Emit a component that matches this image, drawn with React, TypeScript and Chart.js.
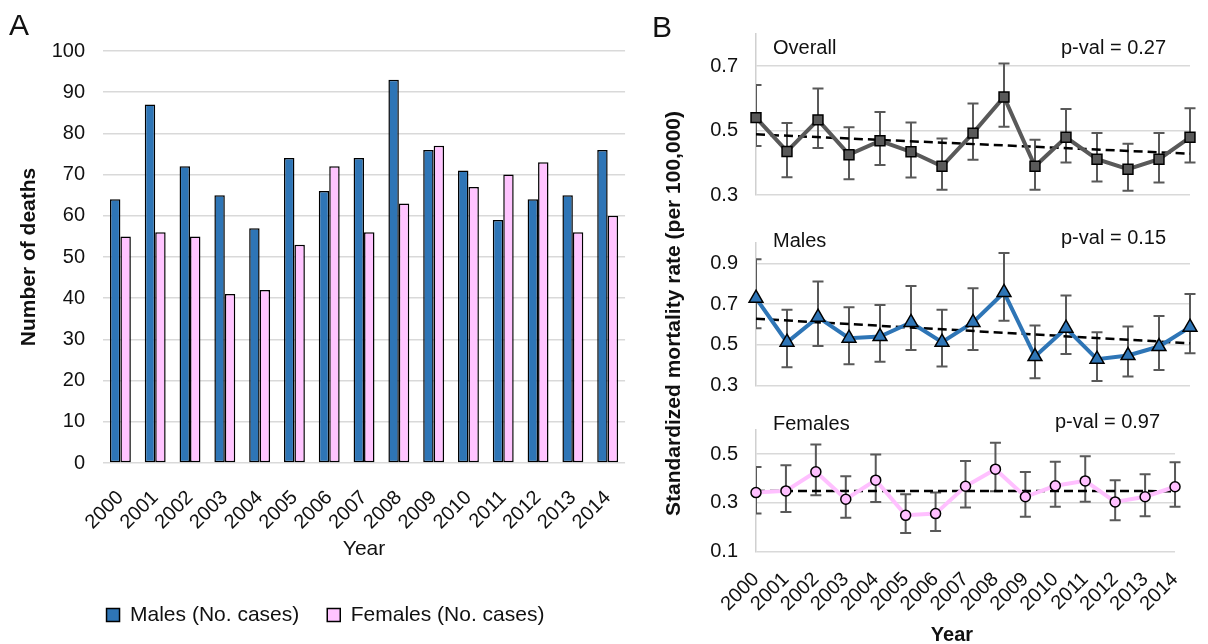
import React, { useEffect, useRef } from "react";
import { Chart, registerables } from "chart.js";

Chart.register(...registerables);

const FONT = "'Liberation Sans', Arial, Helvetica, sans-serif";
Chart.defaults.font.family = FONT;
Chart.defaults.color = "#111";

// ---------- data ----------
const years = ["2000", "2001", "2002", "2003", "2004", "2005", "2006", "2007", "2008", "2009", "2010", "2011", "2012", "2013", "2014"];

const malesCases = [64, 87, 72, 65, 57, 74, 66, 74, 93, 76, 71, 59, 64, 65, 76];
const femalesCases = [55, 56, 55, 41, 42, 53, 72, 56, 63, 77, 67, 70, 73, 56, 60];

const overallRate = [0.54, 0.435, 0.533, 0.425, 0.468, 0.434, 0.389, 0.492, 0.604, 0.389, 0.479, 0.411, 0.38, 0.411, 0.479];
const overallUpper = [0.641, 0.523, 0.63, 0.51, 0.557, 0.525, 0.475, 0.584, 0.708, 0.471, 0.567, 0.492, 0.459, 0.492, 0.569];
const overallLower = [0.452, 0.355, 0.446, 0.349, 0.393, 0.354, 0.316, 0.409, 0.512, 0.316, 0.401, 0.342, 0.313, 0.339, 0.401];
const overallTrend = [0.488, 0.428];
const overallTicks = [0.3, 0.5, 0.7];

const malesRate = [0.729, 0.513, 0.636, 0.533, 0.541, 0.61, 0.513, 0.61, 0.757, 0.443, 0.582, 0.43, 0.448, 0.492, 0.587];
const malesUpper = [0.92, 0.672, 0.811, 0.685, 0.696, 0.789, 0.672, 0.778, 0.95, 0.595, 0.742, 0.562, 0.59, 0.642, 0.749];
const malesLower = [0.582, 0.39, 0.495, 0.405, 0.418, 0.475, 0.394, 0.475, 0.618, 0.336, 0.456, 0.323, 0.345, 0.377, 0.459];
const malesTrend = [0.628, 0.508];
const malesTicks = [0.3, 0.5, 0.7, 0.9];

const femalesRate = [0.342, 0.349, 0.427, 0.315, 0.393, 0.249, 0.256, 0.368, 0.438, 0.325, 0.37, 0.39, 0.304, 0.325, 0.366];
const femalesUpper = [0.447, 0.454, 0.539, 0.409, 0.498, 0.335, 0.342, 0.471, 0.546, 0.426, 0.468, 0.491, 0.393, 0.417, 0.466];
const femalesLower = [0.256, 0.263, 0.331, 0.239, 0.304, 0.177, 0.185, 0.281, 0.348, 0.243, 0.284, 0.305, 0.229, 0.245, 0.284];
const femalesTrend = [0.349, 0.348];
const femalesTicks = [0.1, 0.3, 0.5];

// ---------- helpers ----------
type TextItem = { text: string; x: number; y: number; font: string; align?: CanvasTextAlign; baseline?: CanvasTextBaseline; rotate?: number; color?: string };

function makeTextPlugin(id: string, items: TextItem[]) {
  return {
    id,
    afterDraw(chart: any) {
      const ctx = chart.ctx as CanvasRenderingContext2D;
      items.forEach((it) => {
        ctx.save();
        ctx.font = it.font;
        ctx.fillStyle = it.color || "#111";
        ctx.textAlign = it.align || "left";
        ctx.textBaseline = it.baseline || "alphabetic";
        ctx.translate(it.x, it.y);
        if (it.rotate) ctx.rotate(it.rotate);
        ctx.fillText(it.text, 0, 0);
        ctx.restore();
      });
    },
  };
}

function makeErrorBarPlugin(upper: number[], lower: number[]) {
  return {
    id: "errorBars",
    beforeDatasetsDraw(chart: any) {
      const { ctx, chartArea, scales } = chart;
      const x = scales.x;
      const y = scales.y;
      const cap = 5.5;
      ctx.save();
      ctx.beginPath();
      ctx.rect(chartArea.left, 0, chart.width - chartArea.left, chart.height);
      ctx.clip();
      ctx.strokeStyle = "#595959";
      ctx.lineWidth = 2;
      upper.forEach((u, i) => {
        const px = x.getPixelForValue(i);
        const p1 = y.getPixelForValue(u);
        const p2 = y.getPixelForValue(lower[i]);
        ctx.beginPath();
        ctx.moveTo(px, p1);
        ctx.lineTo(px, p2);
        ctx.moveTo(px - cap, p1);
        ctx.lineTo(px + cap, p1);
        ctx.moveTo(px - cap, p2);
        ctx.lineTo(px + cap, p2);
        ctx.stroke();
      });
      ctx.restore();
    },
  };
}

function trendSeries(t: number[]) {
  return years.map((_, i) => (i === 0 ? t[0] : i === years.length - 1 ? t[1] : null));
}

// ---------- panel A ----------
function makeBarConfig(): any {
  return {
    type: "bar",
    data: {
      labels: years,
      datasets: [
        {
          label: "Males (No. cases)",
          data: malesCases,
          backgroundColor: "#2E75B6",
          borderColor: "#000",
          borderWidth: 1.5,
          borderSkipped: false,
          categoryPercentage: 0.6,
          barPercentage: 1,
        },
        {
          label: "Females (No. cases)",
          data: femalesCases,
          backgroundColor: "#FFC4FF",
          borderColor: "#000",
          borderWidth: 1.5,
          borderSkipped: false,
          categoryPercentage: 0.6,
          barPercentage: 1,
        },
      ],
    },
    options: {
      animation: false,
      responsive: false,
      layout: { padding: { top: 51, right: 11, bottom: 8.5, left: 22 } },
      plugins: {
        legend: {
          position: "bottom",
          labels: { boxWidth: 13, boxHeight: 13, padding: 28, color: "#111", font: { size: 21 } },
        },
        tooltip: { enabled: false },
      },
      scales: {
        x: {
          grid: { display: false },
          border: { display: false },
          ticks: { minRotation: 45, maxRotation: 45, autoSkip: false, padding: 15, font: { size: 20 }, color: "#111" },
          title: { display: true, text: "Year", font: { size: 21 }, color: "#111", padding: { top: 0, bottom: 14.5 } },
          afterFit: (s: any) => {
            s.height = 113.5;
          },
        },
        y: {
          min: 0,
          max: 100,
          ticks: { stepSize: 10, padding: 18, font: { size: 20 }, color: "#111" },
          grid: { color: "#d9d9d9", lineWidth: 1.5, drawTicks: false },
          border: { display: false },
          title: { display: true, text: "Number of deaths", font: { size: 21, weight: "bold" }, color: "#111", padding: { top: -5.6, bottom: 0 } },
          afterFit: (s: any) => {
            s.width = 81;
          },
        },
      },
    },
    plugins: [makeTextPlugin("panelA", [{ text: "A", x: 9, y: 35, font: `30px ${FONT}` }])],
  };
}

// ---------- panel B ----------
type RateOpts = {
  label: string;
  values: number[];
  upper: number[];
  lower: number[];
  trend: number[];
  ticks: number[];
  min: number;
  max: number;
  color: string;
  pointStyle: string;
  radius: number;
  padTop: number;
  padBottom: number;
  showX: boolean;
  xHeight: number;
  texts: TextItem[];
};

function makeRateConfig(o: RateOpts): any {
  return {
    type: "line",
    data: {
      labels: years,
      datasets: [
        {
          label: o.label,
          data: o.values,
          borderColor: o.color,
          borderWidth: 4,
          backgroundColor: o.color,
          pointStyle: o.pointStyle,
          pointRadius: o.radius,
          pointBackgroundColor: o.color,
          pointBorderColor: "#000",
          pointBorderWidth: 1.5,
          tension: 0,
          clip: false,
          order: 0,
        },
        {
          label: "trend",
          data: trendSeries(o.trend),
          borderColor: "#000",
          borderWidth: 2.5,
          borderDash: [9, 5],
          pointRadius: 0,
          spanGaps: true,
          clip: false,
          order: 1,
        },
      ],
    },
    options: {
      animation: false,
      responsive: false,
      layout: { padding: { top: o.padTop, right: 18, bottom: o.padBottom, left: 0 } },
      plugins: { legend: { display: false }, tooltip: { enabled: false } },
      scales: {
        x: {
          display: o.showX,
          offset: false,
          grid: { display: false, drawTicks: false },
          border: { display: false },
          ticks: { minRotation: 45, maxRotation: 45, autoSkip: false, padding: 16, font: { size: 20 }, color: "#111" },
          afterFit: (s: any) => {
            s.height = o.xHeight;
          },
        },
        y: {
          min: o.min,
          max: o.max,
          afterBuildTicks: (s: any) => {
            s.ticks = o.ticks.map((v) => ({ value: v }));
          },
          ticks: { padding: 18, font: { size: 20 }, color: "#111", callback: (v: any) => Number(v).toFixed(1) },
          grid: { color: "#d9d9d9", lineWidth: 1.5, drawTicks: false },
          border: { display: true, color: "#d0d0d0", width: 1.5 },
          afterFit: (s: any) => {
            s.width = 116;
          },
        },
      },
    },
    plugins: [makeErrorBarPlugin(o.upper, o.lower), makeTextPlugin("panelText" + o.label, o.texts)],
  };
}

const f20 = `20px ${FONT}`;

function ChartCanvas({ make, left, top, width, height }: { make: () => any; left: number; top: number; width: number; height: number }) {
  const ref = useRef<HTMLCanvasElement | null>(null);
  useEffect(() => {
    if (!ref.current) return;
    const c = new Chart(ref.current, make());
    return () => c.destroy();
  }, []);
  return <canvas ref={ref} width={width} height={height} style={{ position: "absolute", left, top, width, height }} />;
}

export default function App() {
  return (
    <div style={{ position: "absolute", left: 0, top: 0, width: 1208, height: 644, background: "#fff", overflow: "hidden" }}>
      <ChartCanvas make={makeBarConfig} left={0} top={0} width={640} height={644} />
      <ChartCanvas
        left={640}
        top={0}
        width={568}
        height={644}
        make={() =>
          makeRateConfig({
            label: "Overall",
            values: overallRate,
            upper: overallUpper,
            lower: overallLower,
            trend: overallTrend,
            ticks: overallTicks,
            min: 0.3,
            max: 0.8,
            color: "#595959",
            pointStyle: "rect",
            radius: 7,
            padTop: 33.75,
            padBottom: 449,
            showX: false,
            xHeight: 0,
            texts: [
              { text: "B", x: 12, y: 37, font: `30px ${FONT}` },
              { text: "Overall", x: 133, y: 54, font: f20 },
              { text: "p-val = 0.27", x: 421, y: 54, font: f20 },
            ],
          })
        }
      />
      <ChartCanvas
        left={640}
        top={0}
        width={568}
        height={644}
        make={() =>
          makeRateConfig({
            label: "Males",
            values: malesRate,
            upper: malesUpper,
            lower: malesLower,
            trend: malesTrend,
            ticks: malesTicks,
            min: 0.3,
            max: 1.0,
            color: "#2E75B6",
            pointStyle: "triangle",
            radius: 8,
            padTop: 242.9,
            padBottom: 258.3,
            showX: false,
            xHeight: 0,
            texts: [
              { text: "Males", x: 133, y: 247, font: f20 },
              { text: "p-val = 0.15", x: 421, y: 244, font: f20 },
            ],
          })
        }
      />
      <ChartCanvas
        left={640}
        top={0}
        width={568}
        height={644}
        make={() =>
          makeRateConfig({
            label: "Females",
            values: femalesRate,
            upper: femalesUpper,
            lower: femalesLower,
            trend: femalesTrend,
            ticks: femalesTicks,
            min: 0.1,
            max: 0.6,
            color: "#FFC0FF",
            pointStyle: "circle",
            radius: 5,
            padTop: 429.6,
            padBottom: 0,
            showX: true,
            xHeight: 92.3,
            texts: [
              { text: "Females", x: 133, y: 430, font: f20 },
              { text: "p-val = 0.97", x: 415, y: 428, font: f20 },
              { text: "Year", x: 312, y: 635, font: `bold 20px ${FONT}`, align: "center", baseline: "middle" },
              {
                text: "Standardized mortality rate (per 100,000)",
                x: 34,
                y: 516,
                font: `bold 21px ${FONT}`,
                align: "left",
                baseline: "middle",
                rotate: -Math.PI / 2,
              },
            ],
          })
        }
      />
    </div>
  );
}
